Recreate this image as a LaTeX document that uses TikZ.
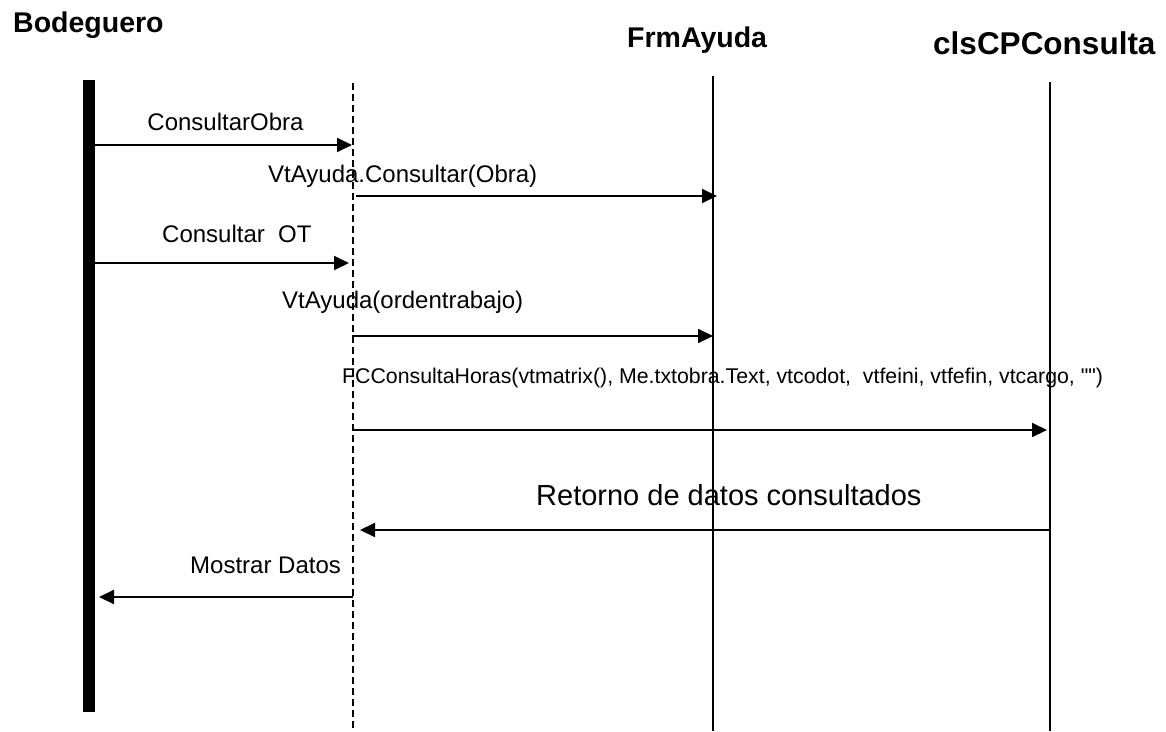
\documentclass[tikz,border=0pt]{standalone}
\usepackage{fontspec}
\setmainfont{Liberation Sans}
\font\fcfont="Liberation Sans" at 21.3pt
\usetikzlibrary{arrows.meta}
\begin{document}
\begin{tikzpicture}[x=1pt,y=-1pt,
  title/.style={font=\fontsize{28.5}{32}\selectfont\bfseries, inner sep=0pt, anchor=base west},
  lbl/.style={font=\fontsize{24}{28}\selectfont, inner sep=0pt, anchor=base west},
  lifeline/.style={line width=1.5pt},
  dashline/.style={line width=1.3pt, dash pattern=on 7pt off 4pt},
  msg/.style={line width=2pt, -{Triangle[length=15pt,width=14pt]}}
]
\useasboundingbox (0,0) rectangle (1166,731);
% titles
\node[title] (tBod) at (13,32) {Bodeguero};
\node[title] (tFrm) at (627,47) {FrmAyuda};
\node[title, font=\fontsize{31.5}{34}\selectfont\bfseries] (tCls) at (933,54) {clsCPConsulta};
% lifelines
\fill (83,80) rectangle (95,712);
\coordinate (dTop) at (353,83);
\coordinate (dBot) at (353,731);
\draw[dashline] (dTop) -- (dBot);
\coordinate (fTop) at (713,76);
\coordinate (fBot) at (713,731);
\draw[lifeline] (fTop) -- (fBot);
\coordinate (cTop) at (1050,82);
\coordinate (cBot) at (1050,731);
\draw[lifeline] (cTop) -- (cBot);
% messages
\coordinate (m1a) at (95,145); \coordinate (m1b) at (352,145);
\draw[msg] (m1a) -- (m1b);
\node[lbl, anchor=base] (l1) at (225.5,130) {ConsultarObra};
\coordinate (m2a) at (356,196); \coordinate (m2b) at (717,196);
\draw[msg] (m2a) -- (m2b);
\node[lbl] (l2) at (268,182) {VtAyuda.Consultar(Obra)};
\coordinate (m3a) at (95,263); \coordinate (m3b) at (349,263);
\draw[msg] (m3a) -- (m3b);
\node[lbl] (l3) at (162,242) {Consultar\ \ OT};
\coordinate (m4a) at (352,336); \coordinate (m4b) at (713,336);
\draw[msg] (m4a) -- (m4b);
\node[lbl] (l4) at (282,308) {VtAyuda(ordentrabajo)};
\coordinate (m5a) at (352,430); \coordinate (m5b) at (1047,430);
\draw[msg] (m5a) -- (m5b);
\node[lbl, font=\fcfont] (l5) at (342,383) {FCConsultaHoras(vtmatrix(), Me.txtobra.Text, vtcodot,\ \ vtfeini, vtfefin, vtcargo, "")};
\coordinate (m6a) at (1050,530); \coordinate (m6b) at (360,530);
\draw[msg] (m6a) -- (m6b);
\node[lbl, font=\fontsize{29}{32}\selectfont] (l6) at (536,505) {Retorno de datos consultados};
\coordinate (m7a) at (353,597); \coordinate (m7b) at (99,597);
\draw[msg] (m7a) -- (m7b);
\node[lbl] (l7) at (190,573) {Mostrar Datos};
\end{tikzpicture}
\end{document}
